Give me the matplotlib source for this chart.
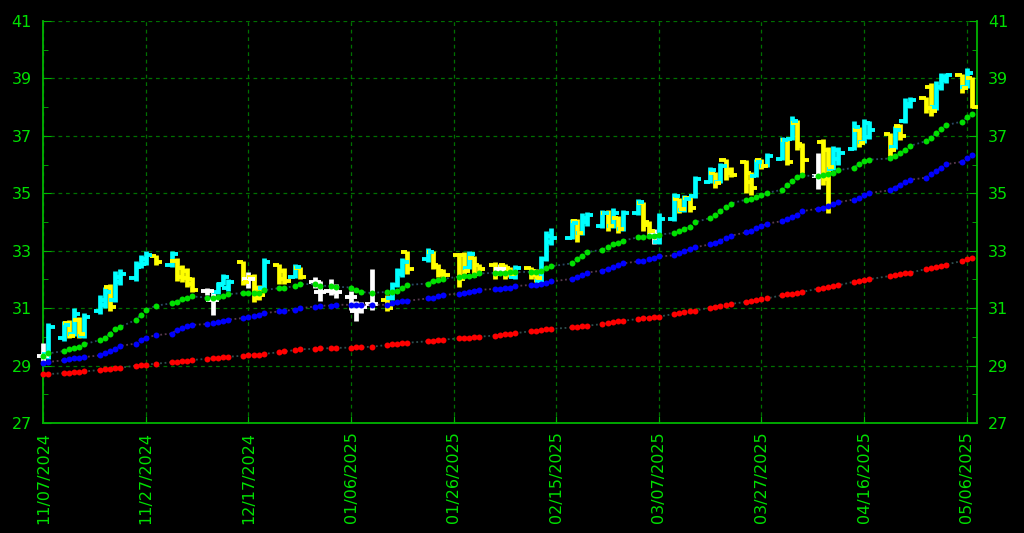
import numpy as np
import pandas as pd
import matplotlib
matplotlib.use("Agg")
import matplotlib.pyplot as plt
import matplotlib.dates as mdates

# trading days shown on the chart
holidays = ["2024-11-28", "2024-12-25", "2025-01-01", "2025-01-09",
            "2025-01-20", "2025-02-17", "2025-04-18"]
days = pd.bdate_range("2024-11-07", "2025-05-07", freq="C", holidays=holidays)

opens = [29.35, 29.40, 29.95, 30.50, 30.10, 30.60, 30.05, 30.90, 31.10, 31.75,
         31.30, 31.90, 32.05, 32.45, 32.55, 32.80, 32.50, 32.65, 32.40, 32.30,
         32.00, 31.60, 31.30, 31.55, 31.85, 31.70, 32.60, 32.00, 32.10, 31.70,
         31.70, 32.50, 32.30, 32.10, 32.40, 31.90, 31.55, 31.60, 31.55, 31.40,
         30.90, 31.05, 31.15, 31.30, 31.35, 31.80, 32.20, 32.95, 32.70, 32.95,
         32.50, 32.30, 32.85, 32.85, 32.40, 32.75, 32.50, 32.50, 32.35, 32.50,
         32.40, 32.10, 32.40, 32.30, 31.95, 32.70, 33.30, 33.45, 34.05, 33.60,
         34.00, 33.85, 34.30, 33.85, 34.15, 33.75, 34.30, 34.65, 34.00, 33.55,
         33.30, 34.10, 34.80, 34.40, 34.85, 34.90, 35.40, 35.70, 35.40, 36.15,
         35.80, 36.10, 35.70, 35.60, 36.15, 35.95, 36.20, 36.85, 36.90, 37.45,
         36.70, 35.60, 36.80, 36.50, 35.85, 36.20, 36.55, 37.20, 36.80, 36.95,
         37.05, 36.60, 37.35, 37.50, 38.05, 38.30, 38.70, 38.00, 38.70, 38.95,
         39.10, 38.70, 39.00]
highs = [29.80, 30.50, 30.55, 30.60, 31.00, 30.70, 30.85, 31.45, 31.75, 31.85,
         32.30, 32.35, 32.65, 32.85, 33.00, 32.85, 33.00, 32.75, 32.50, 32.40,
         32.10, 31.70, 31.55, 31.90, 32.20, 32.00, 32.65, 32.25, 32.20, 31.80,
         32.75, 32.55, 32.40, 32.55, 32.45, 32.10, 31.95, 32.00, 31.85, 31.60,
         31.25, 31.20, 32.35, 31.45, 31.90, 32.40, 32.75, 33.00, 33.10, 33.00,
         32.55, 32.35, 32.90, 32.95, 33.00, 32.80, 32.55, 32.60, 32.55, 32.55,
         32.45, 32.50, 32.45, 32.35, 32.80, 33.70, 33.80, 34.10, 34.10, 34.30,
         34.35, 34.40, 34.40, 34.50, 34.20, 34.40, 34.80, 34.70, 34.05, 33.75,
         34.30, 35.00, 34.85, 34.95, 34.90, 35.60, 35.90, 35.75, 36.05, 36.20,
         35.90, 36.15, 35.75, 36.20, 36.20, 36.40, 36.95, 36.90, 37.70, 37.55,
         36.75, 36.40, 36.90, 36.60, 36.65, 36.60, 37.50, 37.30, 37.60, 37.50,
         37.10, 37.35, 37.40, 38.30, 38.35, 38.35, 38.85, 38.90, 39.20, 39.20,
         39.15, 39.35, 39.05]
lows = [29.15, 29.25, 29.85, 29.95, 30.05, 29.95, 29.95, 30.80, 31.00, 30.90,
        31.20, 31.80, 31.95, 32.40, 32.50, 32.50, 32.45, 31.95, 31.90, 31.75,
        31.55, 31.45, 30.75, 31.50, 31.80, 31.60, 31.80, 31.70, 31.20, 31.30,
        31.60, 31.85, 31.85, 32.05, 32.00, 31.70, 31.25, 31.45, 31.35, 30.95,
        30.55, 30.85, 30.95, 30.90, 31.30, 31.75, 32.10, 32.20, 32.60, 32.35,
        32.10, 32.05, 31.75, 32.20, 32.35, 32.10, 32.25, 32.00, 32.20, 32.00,
        32.10, 32.00, 32.00, 31.90, 31.90, 32.65, 33.20, 33.40, 33.30, 33.55,
        33.85, 33.80, 33.70, 33.80, 33.60, 33.70, 34.25, 33.70, 33.55, 33.25,
        33.25, 34.05, 34.30, 34.35, 34.35, 34.85, 35.35, 35.20, 35.35, 35.45,
        35.55, 35.00, 34.95, 35.55, 35.85, 35.90, 36.15, 36.00, 36.85, 36.50,
        35.70, 35.15, 35.30, 34.30, 35.80, 36.00, 36.50, 36.60, 36.75, 36.90,
        36.30, 36.55, 36.85, 37.45, 37.95, 37.80, 37.70, 37.90, 38.60, 38.85,
        38.50, 38.65, 37.95]
closes = [29.35, 30.35, 30.40, 30.05, 30.80, 30.10, 30.70, 31.30, 31.55, 31.05,
          32.10, 32.20, 32.50, 32.70, 32.85, 32.60, 32.90, 32.10, 32.05, 31.85,
          31.65, 31.60, 31.30, 31.80, 32.10, 31.90, 31.90, 32.00, 31.35, 31.45,
          32.60, 32.00, 31.95, 32.45, 32.10, 31.90, 31.55, 31.60, 31.55, 31.40,
          30.90, 31.05, 31.15, 31.00, 31.80, 32.30, 32.60, 32.35, 32.95, 32.45,
          32.20, 32.15, 32.00, 32.30, 32.90, 32.20, 32.35, 32.20, 32.35, 32.25,
          32.20, 32.40, 32.15, 32.05, 32.70, 33.50, 33.45, 33.95, 33.60, 34.15,
          34.25, 34.30, 33.85, 34.30, 33.75, 34.30, 34.70, 33.90, 33.70, 33.55,
          34.10, 34.90, 34.45, 34.80, 34.50, 35.50, 35.80, 35.35, 35.95, 35.70,
          35.65, 35.40, 35.20, 36.10, 35.95, 36.30, 36.85, 36.10, 37.50, 36.65,
          36.15, 35.60, 35.50, 35.90, 36.50, 36.40, 37.30, 36.75, 37.45, 37.20,
          36.50, 37.20, 37.00, 38.10, 38.25, 37.95, 37.85, 38.70, 39.05, 39.10,
          38.65, 39.20, 38.00]

ma_fast = [29.34, 29.43, 29.51, 29.57, 29.63, 29.65, 29.75, 29.89, 29.98, 30.12,
           30.27, 30.35, 30.59, 30.77, 30.94, 31.09, 31.17, 31.22, 31.32, 31.37,
           31.41, 31.37, 31.37, 31.40, 31.41, 31.49, 31.53, 31.53, 31.53, 31.53,
           31.63, 31.70, 31.70, 31.78, 31.84, 31.84, 31.78, 31.78, 31.75, 31.72,
           31.64, 31.57, 31.53, 31.57, 31.58, 31.61, 31.70, 31.81, 31.86, 31.96,
           31.99, 32.02, 32.10, 32.11, 32.13, 32.17, 32.21, 32.23, 32.23, 32.24,
           32.25, 32.25, 32.27, 32.27, 32.31, 32.40, 32.46, 32.56, 32.72, 32.80,
           32.95, 33.04, 33.12, 33.22, 33.26, 33.35, 33.47, 33.49, 33.50, 33.53,
           33.56, 33.62, 33.70, 33.76, 33.84, 33.99, 34.14, 34.25, 34.38, 34.52,
           34.64, 34.78, 34.81, 34.87, 34.93, 35.01, 35.12, 35.27, 35.43, 35.56,
           35.62, 35.59, 35.62, 35.66, 35.72, 35.80, 35.89, 36.03, 36.12, 36.17,
           36.21, 36.29, 36.40, 36.50, 36.65, 36.81, 36.93, 37.08, 37.22, 37.37,
           37.49, 37.64, 37.75]
ma_mid = [29.10, 29.13, 29.19, 29.22, 29.26, 29.28, 29.30, 29.36, 29.44, 29.51,
          29.57, 29.69, 29.77, 29.89, 29.98, 30.06, 30.12, 30.24, 30.31, 30.38,
          30.42, 30.45, 30.48, 30.52, 30.56, 30.60, 30.66, 30.70, 30.73, 30.77,
          30.83, 30.89, 30.91, 30.95, 31.00, 31.06, 31.09, 31.09, 31.12, 31.12,
          31.12, 31.12, 31.12, 31.12, 31.17, 31.20, 31.24, 31.26, 31.34, 31.37,
          31.41, 31.46, 31.51, 31.54, 31.57, 31.61, 31.64, 31.67, 31.68, 31.70,
          31.72, 31.77, 31.81, 31.82, 31.84, 31.89, 31.93, 32.02, 32.07, 32.16,
          32.24, 32.31, 32.37, 32.45, 32.51, 32.56, 32.63, 32.66, 32.70, 32.75,
          32.80, 32.84, 32.91, 32.98, 33.05, 33.12, 33.22, 33.27, 33.35, 33.45,
          33.52, 33.64, 33.70, 33.78, 33.85, 33.94, 34.03, 34.10, 34.17, 34.26,
          34.38, 34.46, 34.50, 34.55, 34.61, 34.69, 34.78, 34.85, 34.93, 35.01,
          35.10, 35.19, 35.30, 35.39, 35.47, 35.54, 35.66, 35.76, 35.89, 36.01,
          36.09, 36.21, 36.32]
ma_slow = [28.70, 28.71, 28.74, 28.76, 28.77, 28.78, 28.80, 28.85, 28.87, 28.89,
           28.91, 28.93, 29.00, 29.02, 29.04, 29.07, 29.12, 29.14, 29.16, 29.18,
           29.20, 29.24, 29.26, 29.28, 29.29, 29.31, 29.35, 29.37, 29.38, 29.39,
           29.41, 29.47, 29.50, 29.54, 29.57, 29.59, 29.60, 29.61, 29.62, 29.63,
           29.64, 29.65, 29.66, 29.72, 29.74, 29.76, 29.78, 29.80, 29.85, 29.87,
           29.89, 29.91, 29.95, 29.96, 29.97, 29.99, 30.01, 30.05, 30.07, 30.09,
           30.11, 30.13, 30.20, 30.22, 30.24, 30.26, 30.28, 30.33, 30.35, 30.37,
           30.39, 30.45, 30.48, 30.51, 30.54, 30.56, 30.63, 30.65, 30.67, 30.69,
           30.71, 30.80, 30.83, 30.86, 30.89, 30.92, 31.02, 31.06, 31.09, 31.12,
           31.15, 31.22, 31.25, 31.28, 31.31, 31.34, 31.45, 31.48, 31.51, 31.54,
           31.57, 31.68, 31.71, 31.74, 31.77, 31.80, 31.92, 31.95, 31.98, 32.01,
           32.12, 32.15, 32.18, 32.21, 32.24, 32.36, 32.40, 32.44, 32.48, 32.52,
           32.64, 32.70, 32.76]

x = mdates.date2num(days.to_pydatetime())
o = np.array(opens); h = np.array(highs); l = np.array(lows); c = np.array(closes)
cols = np.where(c > o, "#00ffff", np.where(c < o, "#ffff00", "#ffffff"))

fig = plt.figure(figsize=(10.24, 5.33), dpi=100, facecolor="black")
ax = fig.add_axes([0.042, 0.206, 0.912, 0.755])
ax.set_facecolor("black")

# bars
ax.vlines(x, l, h, colors=cols, linewidth=3.4, clip_on=False, zorder=3)
ax.hlines(o, x - 1.2, x, colors=cols, linewidth=2.8, clip_on=False, zorder=3)
ax.hlines(c, x, x + 1.2, colors=cols, linewidth=2.8, clip_on=False, zorder=3)

# moving averages, dots joined by faint dotted lines
for ma, dot, joint in [(ma_slow, "#ff0000", "#2f5050"),
                       (ma_mid, "#0000ff", "#5a3a50"),
                       (ma_fast, "#00e000", "#2a4a66")]:
    ax.plot(x, ma, color=joint, ls=(0, (1, 1.5)), lw=1.3, zorder=4, clip_on=False)
    ax.plot(x, ma, "o", color=dot, ms=4.3, mec="none", zorder=5, clip_on=False)

start = mdates.date2num(pd.Timestamp("2024-11-07"))
ax.set_xlim(start - 0.05, start + 182)
ax.set_ylim(27, 41)

xt = [start + 20 * k for k in range(10)]
ax.set_xticks(xt)
ax.xaxis.set_major_formatter(mdates.DateFormatter("%m/%d/%Y"))
ax.set_yticks(range(27, 42, 2))
ax.set_yticks(range(28, 41, 2), minor=True)

axis_green = "#00b400"
text_green = "#00e000"
ax.grid(True, which="major", color="#007000", ls=(0, (3, 3)), lw=0.9)
ax.set_axisbelow(True)
for side in ["left", "right", "bottom"]:
    ax.spines[side].set_color(axis_green)
    ax.spines[side].set_linewidth(1.3)
ax.spines["top"].set_visible(False)

ax.tick_params(axis="y", which="both", direction="in", left=True, right=True,
               labelleft=True, labelright=True, color=axis_green,
               labelcolor=text_green, labelsize=11.5, pad=8)
ax.tick_params(axis="y", which="major", length=6)
ax.tick_params(axis="y", which="minor", length=3.5)
ax.tick_params(axis="x", direction="in", length=5, color=axis_green,
               labelcolor=text_green, labelsize=11.5, pad=6)
plt.setp(ax.get_xticklabels(), rotation=90, ha="center", va="top")

plt.savefig("out.png", dpi=100, facecolor="black")
